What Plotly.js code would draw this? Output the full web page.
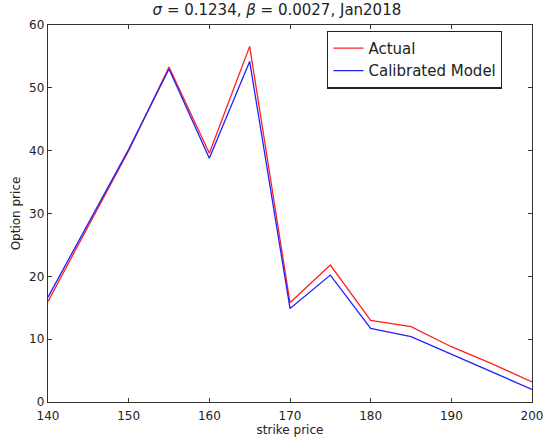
<!DOCTYPE html>
<html><head><script src="https://cdn.plot.ly/plotly-3.0.1.min.js"></script>
<style>body{margin:0;background:#fff}#c{width:543px;height:440px}</style></head>
<body><div id="c"></div>
<script>
const strikes = [140,145,150,155,160,165,170,175,180,185,190,195,200];
const actual = [16.0,28.0,40.0,53.3,39.6,56.6,15.8,21.8,13.0,12.0,8.8,6.1,3.2];
const model  = [16.7,28.5,40.2,53.0,38.8,54.2,14.9,20.2,11.7,10.4,7.6,4.8,2.0];
const xticks = [140,150,160,170,180,190,200];
const yticks = [0,10,20,30,40,50,60];
const font = {family:'DejaVu Sans, sans-serif', size:12, color:'#222'};
const ax = {showline:true, mirror:'ticks', linecolor:'#333', linewidth:1.2, ticks:'inside', ticklen:4, tickcolor:'#333',
  showgrid:false, zeroline:false, tickfont:font, ticklabeloverflow:'allow'};
Plotly.newPlot('c', [
  {x:strikes, y:actual, mode:'lines', name:'Actual', line:{color:'#ff2020', width:1.3}},
  {x:strikes, y:model, mode:'lines', name:'Calibrated Model', line:{color:'#2020ff', width:1.3}}
], {
  width:543, height:440, paper_bgcolor:'#fff', plot_bgcolor:'#fff', font:font,
  margin:{l:48, r:11, t:25, b:38},
  title:{text:'<i>σ</i> = 0.1234, <i>β</i> = 0.0027, Jan2018', font:{family:'DejaVu Sans, sans-serif', size:15, color:'#222'}, x:0.51, xanchor:'center', y:0.99, yanchor:'top'},
  xaxis:Object.assign({}, ax, {range:[140,200], tickvals:xticks, ticklabelstandoff:2, title:{text:'strike price', font:{size:12}, standoff:2}}),
  yaxis:Object.assign({}, ax, {range:[0,60], tickvals:yticks, title:{text:'Option price', font:{size:12}, standoff:6}}),
  legend:{x:0.577, y:0.985, xanchor:'left', yanchor:'top', bgcolor:'#fff', bordercolor:'#222', borderwidth:1.2,
    font:{family:'DejaVu Sans, sans-serif', size:15, color:'#222'}, itemwidth:30, tracegroupgap:0},
  showlegend:true
}, {displayModeBar:false, staticPlot:true});
</script></body></html>
